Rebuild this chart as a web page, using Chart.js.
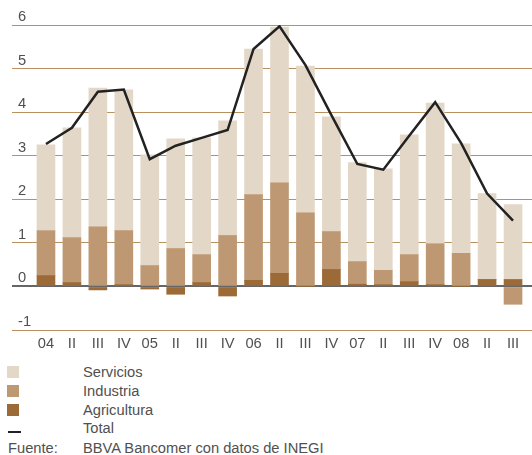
<!DOCTYPE html>
<html>
<head>
<meta charset="utf-8">
<script src="https://cdn.jsdelivr.net/npm/chart.js@4/dist/chart.umd.min.js"></script>
<style>
  html, body { margin: 0; padding: 0; background: #fff; }
  #wrap { position: relative; width: 532px; height: 455px; overflow: hidden; }
  canvas { position: absolute; left: 0; top: 0; }
  .lg { position: absolute; font-family: 'Liberation Sans', Arial, sans-serif; font-size: 14.7px; color: #505050; line-height: 18px; white-space: nowrap; }
  .sw { position: absolute; }
</style>
</head>
<body>
<div id="wrap">
  <canvas id="c" width="532" height="360"></canvas>
</div>
<script>
// ---- data ----
const categories = ['04','II','III','IV','05','II','III','IV','06','II','III','IV','07','II','III','IV','08','II','III'];
const agricultura = [0.25, 0.09, -0.08, 0.04, -0.06, -0.18, 0.09, -0.22, 0.14, 0.30, 0.00, 0.39, 0.05, 0.04, 0.11, 0.04, 0.00, 0.16, 0.16];
const industria   = [1.03, 1.03, 1.37, 1.24, 0.48, 0.87, 0.64, 1.17, 1.97, 2.08, 1.69, 0.87, 0.52, 0.33, 0.62, 0.94, 0.76, 0.00, -0.41];
const servicios   = [1.97, 2.52, 3.18, 3.23, 2.54, 2.52, 2.68, 2.63, 3.34, 3.57, 3.37, 2.63, 2.27, 2.33, 2.75, 3.23, 2.51, 1.97, 1.72];
const total       = [3.27, 3.64, 4.47, 4.52, 2.92, 3.23, 3.41, 3.59, 5.45, 5.97, 5.08, 3.93, 2.81, 2.68, 3.46, 4.23, 3.29, 2.13, 1.51];
const yMin = -1, yMax = 6, yStep = 1;
const sourceLabel = 'Fuente:';
const sourceText = 'BBVA Bancomer con datos de INEGI';

// ---- styles ----
const FONT = "'Liberation Sans', Arial, sans-serif";
const TXT = '#505050';
const C_SERV = '#E3D7C7', C_IND = '#BE9873', C_AGR = '#9B6A36', C_TOT = '#222222';
const GRID = '#B8915F', ZERO = '#666666';
const gridColor = ctx => (ctx.tick && ctx.tick.value === 0) ? ZERO : GRID;
const gridWidth = ctx => (ctx.tick && ctx.tick.value === 0) ? 2 : 1;

const chart = new Chart(document.getElementById('c'), {
  data: {
    labels: categories,
    datasets: [
      { type: 'line', label: 'Total', data: total, borderColor: C_TOT, backgroundColor: C_TOT,
        borderWidth: 2.5, pointRadius: 0, tension: 0, order: 0, stack: 'total', yAxisID: 'y' },
      { type: 'bar', label: 'Agricultura', data: agricultura, backgroundColor: C_AGR, barThickness: 18, order: 1, stack: 's' },
      { type: 'bar', label: 'Industria', data: industria, backgroundColor: C_IND, barThickness: 18, order: 1, stack: 's' },
      { type: 'bar', label: 'Servicios', data: servicios, backgroundColor: C_SERV, barThickness: 18, order: 1, stack: 's' }
    ]
  },
  options: {
    responsive: false,
    animation: false,
    devicePixelRatio: 1,
    layout: { padding: { left: 12, right: 0, top: 25, bottom: 0 } },
    plugins: { legend: { display: false }, tooltip: { enabled: false } },
    scales: {
      x: {
        stacked: true, offset: true,
        grid: { display: false, drawTicks: false },
        border: { display: false },
        ticks: { color: TXT, font: { family: FONT, size: 14.7 }, padding: 5, maxRotation: 0, autoSkip: false },
        afterFit: s => { s.height = 30; }
      },
      y: {
        stacked: true, min: yMin, max: yMax,
        ticks: { stepSize: yStep, mirror: true, padding: -15, labelOffset: -8, color: TXT, font: { family: FONT, size: 14.7 } },
        grid: { color: gridColor, lineWidth: gridWidth, tickLength: 21, drawTicks: true, tickColor: gridColor, tickWidth: gridWidth },
        border: { display: false },
        afterFit: s => { s.width = 21; }
      },
      yr: {
        position: 'right', min: yMin, max: yMax,
        ticks: { stepSize: yStep, display: false },
        grid: { drawOnChartArea: false, tickLength: 6, drawTicks: true, color: gridColor, tickColor: gridColor, lineWidth: gridWidth, tickWidth: gridWidth },
        border: { display: false },
        afterFit: s => { s.width = 6; }
      }
    }
  }
});

// ---- HTML legend built from the datasets ----
const wrap = document.getElementById('wrap');
const legendOrder = ['Servicios', 'Industria', 'Agricultura', 'Total'];
const rowCenters = [372, 390.8, 409.5, 428.2];
legendOrder.forEach((name, i) => {
  const ds = chart.data.datasets.find(d => d.label === name);
  const cy = rowCenters[i];
  const sw = document.createElement('div');
  sw.className = 'sw';
  if (ds.type === 'line') {
    sw.style.cssText = `left:8px;top:${cy + 3}px;width:13px;height:2px;background:${ds.borderColor}`;
  } else {
    sw.style.cssText = `left:7px;top:${cy - 6}px;width:12px;height:12px;background:${ds.backgroundColor}`;
  }
  wrap.appendChild(sw);
  const t = document.createElement('div');
  t.className = 'lg';
  t.style.left = '83px';
  t.style.top = (cy - 9) + 'px';
  t.textContent = name;
  wrap.appendChild(t);
});
const s1 = document.createElement('div');
s1.className = 'lg'; s1.style.left = '8px'; s1.style.top = (447.5 - 9) + 'px'; s1.textContent = sourceLabel;
wrap.appendChild(s1);
const s2 = document.createElement('div');
s2.className = 'lg'; s2.style.left = '83px'; s2.style.top = (447.5 - 9) + 'px'; s2.textContent = sourceText;
wrap.appendChild(s2);
</script>
</body>
</html>
